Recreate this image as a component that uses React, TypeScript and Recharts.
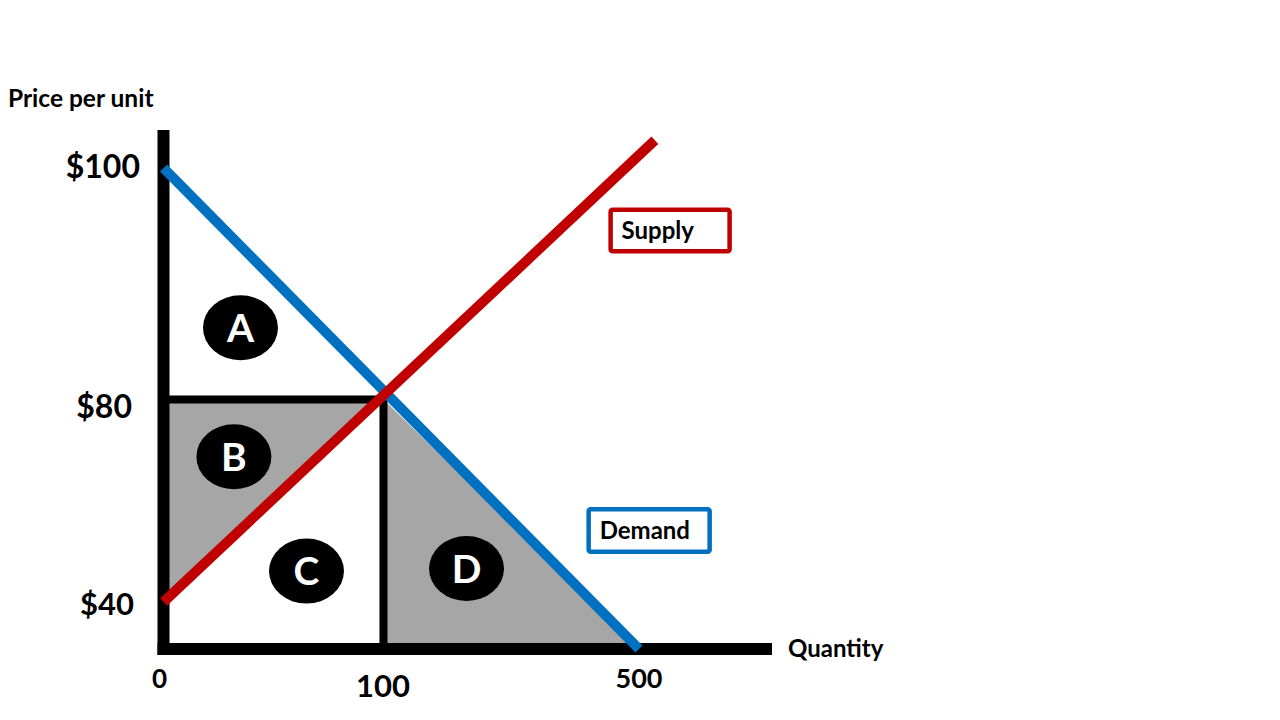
import { Area, ComposedChart, Line, Scatter, XAxis, YAxis } from 'recharts';

// schematic diagram: axes are not linear, so each axis gets a piecewise scale
const quantityStops = [0, 100, 500, 700];
const quantityMarks = [0, 0.3651, 0.7892, 1];
const priceStops = [0, 40, 80, 100, 103];
const priceMarks = [0, 0.0916, 0.4864, 0.9376, 1];

const quantityTicks = [0, 100, 500];
const priceTicks = [40, 80, 100];
const priceLabels = ['$40', '$80', '$100'];

const demandLine = [
  { q: 0, p: 100 },
  { q: 500, p: 0 },
];
const supplyLine = [
  { q: 0, p: 40 },
  { q: 525, p: 102.6 },
];
const frameLine = [
  { q: 0, p: 80 },
  { q: 100, p: 80 },
  { q: 100, p: 0 },
];
const areaB = [
  { q: 0, p: [40, 80] },
  { q: 100, p: [80, 80] },
];
const areaD = [
  { q: 100, p: [0, 80] },
  { q: 500, p: [0, 0] },
];
const regionLabels = [
  { q: 35, p: 86.2, name: 'A' },
  { q: 32, p: 68.7, name: 'B' },
  { q: 65, p: 46.1, name: 'C' },
  { q: 230, p: 46.6, name: 'D' },
];
const curveLabels = [
  { q: 549, p: 94.6, name: 'Supply' },
  { q: 516, p: 54.1, name: 'Demand' },
];

const FONT = 'Lato, "Open Sans", sans-serif';
const RED = '#C00000';
const BLUE = '#0070C0';
const GRAY = '#A6A6A6';

function piecewiseScale(stops: number[], marks: number[]): any {
  let dom = [stops[0], stops[stops.length - 1]];
  let rng = [0, 1];
  const scale: any = (v: number) => {
    let i = 1;
    while (i < stops.length - 1 && v > stops[i]) i++;
    const t = (v - stops[i - 1]) / (stops[i] - stops[i - 1]);
    const f = marks[i - 1] + t * (marks[i] - marks[i - 1]);
    return rng[0] + f * (rng[1] - rng[0]);
  };
  scale.domain = (d?: number[]) => {
    if (!d) return dom;
    dom = d.slice();
    return scale;
  };
  scale.range = (r?: number[]) => {
    if (!r) return rng;
    rng = r.slice();
    return scale;
  };
  scale.copy = () => piecewiseScale(stops, marks).domain(dom).range(rng);
  scale.ticks = () => stops.slice();
  return scale;
}

const xScale = piecewiseScale(quantityStops, quantityMarks);
const yScale = piecewiseScale(priceStops, priceMarks);

const priceStyle: Record<string, { size: number; dx: number; dy: number }> = {
  '$100': { size: 32, dx: -23.5, dy: 10 },
  '$80': { size: 32, dx: -31.5, dy: 18.5 },
  '$40': { size: 31, dx: -29.5, dy: 13 },
};
const quantityStyle: Record<string, { size: number; dx: number; dy: number }> = {
  '0': { size: 26, dx: -4, dy: 39 },
  '100': { size: 31, dx: -0.5, dy: 48 },
  '500': { size: 27, dx: 0, dy: 39 },
};

function PriceTick(props: any) {
  const { x, y, payload } = props;
  const label = priceLabels[priceTicks.indexOf(payload.value)];
  const s = priceStyle[label];
  return (
    <text x={x + s.dx} y={y + s.dy} textAnchor="end" fontFamily={FONT} fontWeight={700} fontSize={s.size} fill="#000">
      {label}
    </text>
  );
}

function QuantityTick(props: any) {
  const { x, y, payload } = props;
  const label = String(payload.value);
  const s = quantityStyle[label];
  return (
    <text x={x + s.dx} y={y + s.dy} textAnchor="middle" fontFamily={FONT} fontWeight={700} fontSize={s.size} fill="#000">
      {label}
    </text>
  );
}

function RegionBadge(props: any) {
  const { cx, cy, payload } = props;
  return (
    <g>
      <ellipse cx={cx} cy={cy} rx={37.5} ry={32.5} fill="#000" />
      <text x={cx} y={cy + 14} textAnchor="middle" fontFamily={FONT} fontWeight={700} fontSize={39} fill="#fff">
        {payload.name}
      </text>
    </g>
  );
}

function CurveBadge(props: any) {
  const { cx, cy, payload } = props;
  const supply = payload.name === 'Supply';
  const w = supply ? 119 : 121;
  const h = supply ? 41.5 : 42.5;
  return (
    <g>
      <rect x={cx - w / 2} y={cy - h / 2} width={w} height={h} rx={2} fill="#fff" stroke={supply ? RED : BLUE} strokeWidth={4.5} />
      <text x={cx - w / 2 + 11} y={cy + 8.5} fontFamily={FONT} fontWeight={700} fontSize={24} fill="#000">
        {payload.name}
      </text>
    </g>
  );
}

export default function App() {
  return (
    <div style={{ position: 'absolute', left: 0, top: 0, width: 1280, height: 720, background: '#fff' }}>
      <ComposedChart width={1280} height={720} margin={{ top: 136, right: 514, bottom: 0, left: 0 }}>
        <XAxis
          dataKey="q"
          type="number"
          scale={xScale}
          domain={[0, 700]}
          ticks={quantityTicks}
          height={71}
          tickSize={0}
          tickMargin={0}
          tickLine={false}
          axisLine={{ stroke: '#000', strokeWidth: 12, strokeLinecap: 'square' }}
          tick={<QuantityTick />}
          label={{
            content: (p: any) => (
              <text x={p.viewBox.x + p.viewBox.width + 22} y={p.viewBox.y + 8} fontFamily={FONT} fontWeight={700} fontSize={24} fill="#000">
                Quantity
              </text>
            ),
          }}
        />
        <YAxis
          dataKey="p"
          type="number"
          scale={yScale}
          domain={[0, 103]}
          ticks={priceTicks}
          width={163.5}
          tickSize={0}
          tickMargin={0}
          tickLine={false}
          axisLine={{ stroke: '#000', strokeWidth: 12, strokeLinecap: 'square' }}
          tick={<PriceTick />}
          label={{
            content: (p: any) => (
              <text x={8} y={p.viewBox.y - 29} fontFamily={FONT} fontWeight={700} fontSize={24.5} fill="#000">
                Price per unit
              </text>
            ),
          }}
        />
        <Area data={areaB} dataKey="p" type="linear" fill={GRAY} fillOpacity={1} stroke="none" isAnimationActive={false} />
        <Area data={areaD} dataKey="p" type="linear" fill={GRAY} fillOpacity={1} stroke="none" isAnimationActive={false} />
        <Line data={frameLine} dataKey="p" type="linear" stroke="#000" strokeWidth={8} strokeLinejoin="miter" dot={false} activeDot={false} isAnimationActive={false} />
        <Line data={demandLine} dataKey="p" type="linear" stroke={BLUE} strokeWidth={10} dot={false} activeDot={false} isAnimationActive={false} zIndex={550} />
        <Line data={supplyLine} dataKey="p" type="linear" stroke={RED} strokeWidth={10} dot={false} activeDot={false} isAnimationActive={false} zIndex={560} />
        <Scatter data={regionLabels} dataKey="p" shape={<RegionBadge />} isAnimationActive={false} />
        <Scatter data={curveLabels} dataKey="p" shape={<CurveBadge />} isAnimationActive={false} />
      </ComposedChart>
    </div>
  );
}
